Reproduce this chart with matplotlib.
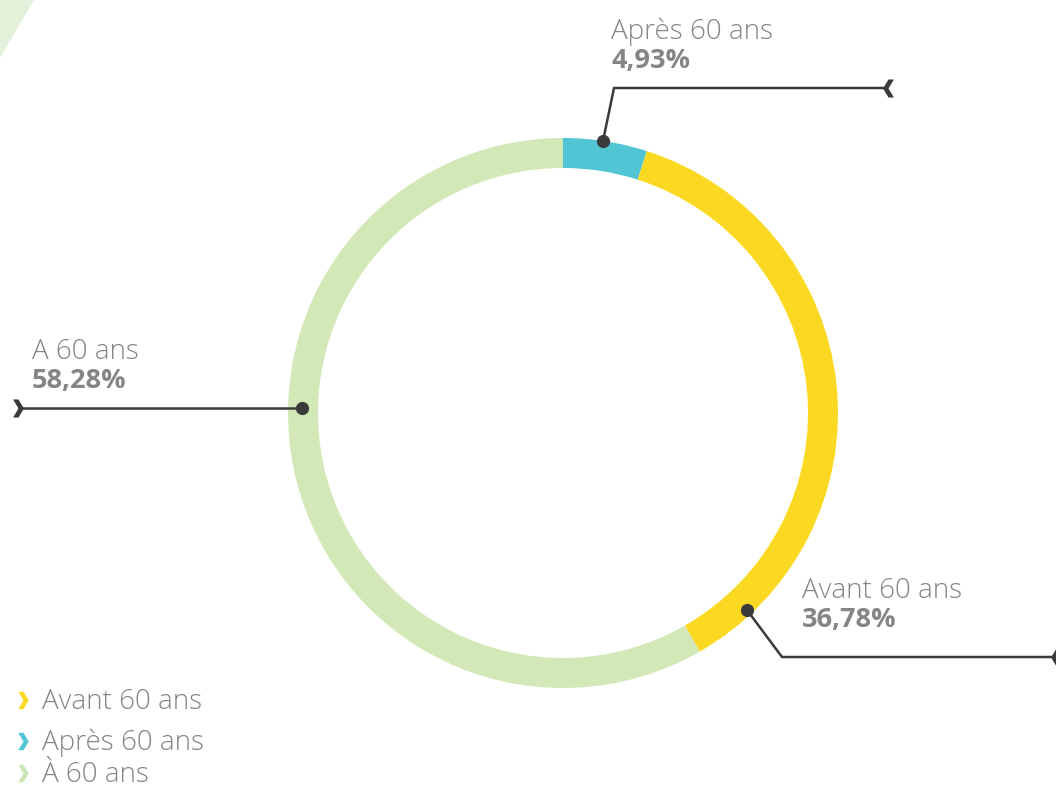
import numpy as np
import matplotlib.pyplot as plt
from matplotlib.path import Path
from matplotlib.patches import Polygon

# donnees (ordre: depuis le haut, sens horaire)
categories = ["Après 60 ans", "Avant 60 ans", "A 60 ans"]
valeurs = [4.93, 36.78, 58.28]
etiquettes = ["4,93%", "36,78%", "58,28%"]
couleurs = ["#52C5D5", "#FBD923", "#D3E8B7"]

legende_noms = ["Avant 60 ans", "Après 60 ans", "À 60 ans"]
legende_couleurs = ["#FBD923", "#52C5D5", "#C9E6B4"]

W, H = 1056, 787
cx, cy, R, epaisseur = 563, 413, 275, 30
gris = "#858585"
fonce = "#3A3A3A"
police = ["Open Sans", "DejaVu Sans"]

fig = plt.figure(figsize=(W / 100, H / 100), dpi=100)
ax = fig.add_axes([0, 0, 1, 1])

# triangle decoratif en haut a gauche
ax.add_patch(Polygon([(0, 0), (34, 0), (0, 58)], closed=True, color="#E3F1DA", lw=0))

# y inverse : -90 = haut, counterclock=True = sens horaire a l'ecran
ax.pie(valeurs, colors=couleurs, startangle=-90, counterclock=True,
       center=(cx, cy), radius=R, frame=True,
       wedgeprops=dict(width=epaisseur, linewidth=0))
ax.set_xlim(0, W)
ax.set_ylim(H, 0)
ax.set_aspect("equal")
ax.axis("off")

# chevrons
chev_d = Path([(-0.6, -1), (0.0, -1), (0.6, 0), (0.0, 1), (-0.6, 1), (0.0, 0), (-0.6, -1)],
              [Path.MOVETO] + [Path.LINETO] * 5 + [Path.CLOSEPOLY])
chev_g = Path([(0.6, -1), (0.0, -1), (-0.6, 0), (0.0, 1), (0.6, 1), (0.0, 0), (0.6, -1)],
              [Path.MOVETO] + [Path.LINETO] * 5 + [Path.CLOSEPOLY])

# annotations : point sur l'anneau, coude, fin de ligne
annot = [
    dict(pts=[(603, 141), (614, 88), (888, 88)], fin=chev_g, txt=(611, 39)),
    dict(pts=[(747, 610), (782, 657), (1056, 657)], fin=chev_g, txt=(802, 598)),
    dict(pts=[(302, 408), (18, 408)], fin=chev_d, txt=(32, 359)),
]
for a, nom, pct in zip(annot, categories, etiquettes):
    xs = [p[0] for p in a["pts"]]
    ys = [p[1] for p in a["pts"]]
    ax.plot(xs, ys, color=fonce, lw=1.8, solid_capstyle="butt", zorder=4)
    ax.plot(xs[0], ys[0], "o", color=fonce, ms=8.5, zorder=5)
    ax.plot(xs[-1], ys[-1], marker=a["fin"], color=fonce, ms=13, mew=0, zorder=5)
    tx, ty = a["txt"]
    ax.text(tx, ty, nom, color=gris, fontsize=20, family=police, weight="light", va="baseline")
    ax.text(tx, ty + 29, pct, color=gris, fontsize=19.5, family=police, weight="bold", va="baseline")

# legende
leg_y = [709, 750, 782]
for nom, c, y in zip(legende_noms, legende_couleurs, leg_y):
    ax.plot(23, y - 9, marker=chev_d, color=c, ms=12.5, mew=0)
    ax.text(42, y, nom, color=gris, fontsize=20, family=police, weight="light", va="baseline")

fig.savefig("out.png", dpi=100)
